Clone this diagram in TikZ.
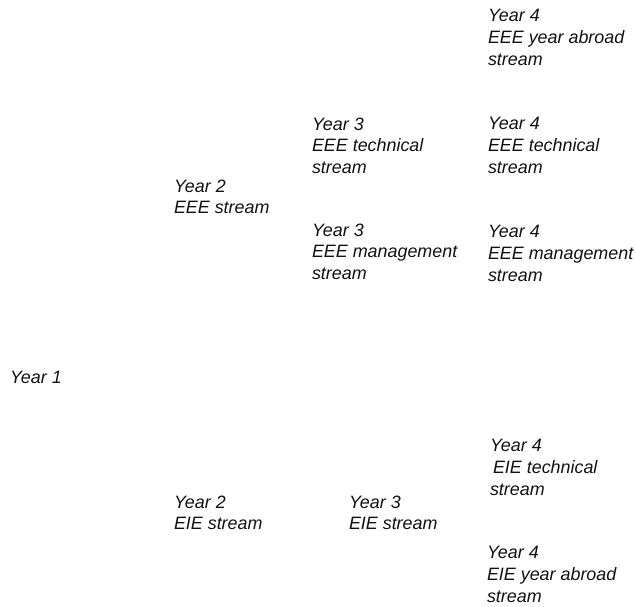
\documentclass[tikz,border=0pt]{standalone}
\usepackage{fontspec}
\setmainfont{Liberation Sans}
\usepackage{tikz}
\usepackage{xcolor}
\definecolor{text}{HTML}{111111}
\tikzset{
  yearbox/.style={anchor=north west, inner sep=0pt, outer sep=0pt, align=left,
                  text=text, font=\fontsize{17.9}{21.8}\selectfont\itshape}
}
\begin{document}
\begin{tikzpicture}[x=1pt,y=-1pt]
        \useasboundingbox (0,0) rectangle (636,606);
        % EEE branch
        \node[yearbox] (eeeAbroad) at (488,9.6)  {Year 4\\EEE year abroad\\stream};
        \node[yearbox] (eeeTechThree) at (312,117.6) {Year 3\\EEE technical\\stream};
        \node[yearbox] (eeeTechFour) at (488,117.6) {Year 4\\EEE technical\\stream};
        \node[yearbox] (eeeTwo) at (174,179.6) {Year 2\\EEE stream};
        \node[yearbox] (eeeManThree) at (312,223.6) {Year 3\\EEE management\\stream};
        \node[yearbox] (eeeManFour) at (488,225.6) {Year 4\\EEE management\\stream};
        % common first year
        \node[yearbox] (yearOne) at (10,371.6) {Year 1};
        % EIE branch
        \node[yearbox] (eieTechFour) at (490,439.6) {Year 4\\\hspace*{3pt}EIE technical\\stream};
        \node[yearbox] (eieTwo) at (174,495.6) {Year 2\\EIE stream};
        \node[yearbox] (eieThree) at (349,495.6) {Year 3\\EIE stream};
        \node[yearbox] (eieAbroad) at (487,546.6) {Year 4\\EIE year abroad\\stream};
      \end{tikzpicture}
\end{document}
